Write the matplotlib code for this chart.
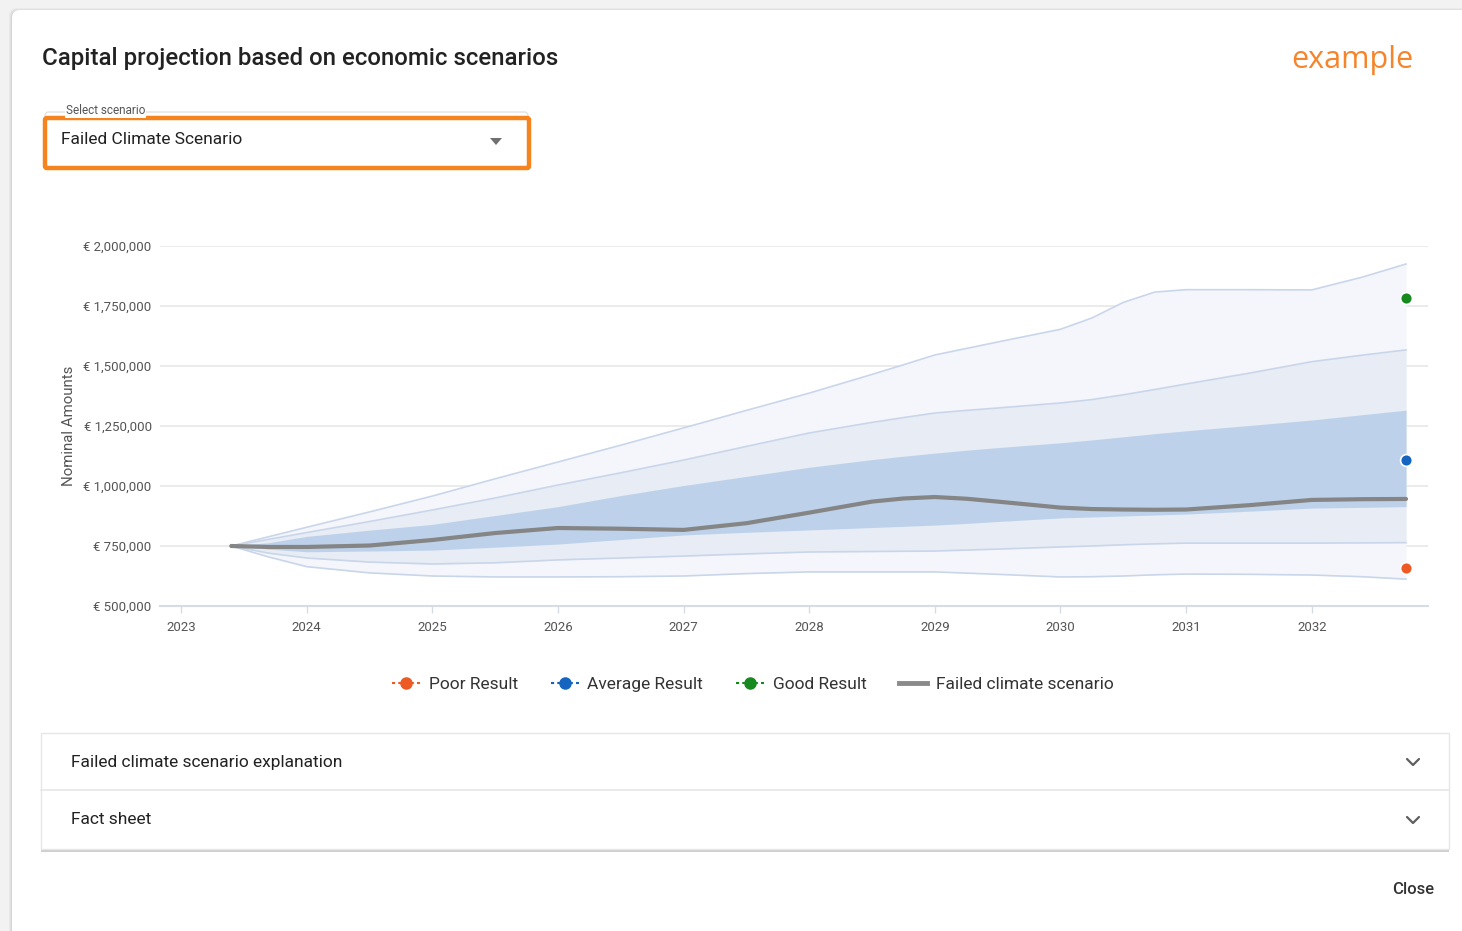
import matplotlib.pyplot as plt
from matplotlib.lines import Line2D
from matplotlib.patches import Rectangle, FancyBboxPatch, Polygon

plt.rcParams['font.family'] = ['Roboto', 'DejaVu Sans']

# projection time points (decimal years)
years = [2023.4, 2023.7, 2024, 2024.5, 2025, 2025.5, 2026, 2026.5, 2027, 2027.5, 2028,
         2028.5, 2028.75, 2029, 2029.25, 2029.5, 2030, 2030.25, 2030.5, 2030.75, 2031,
         2031.5, 2032, 2032.4, 2032.75]

# band edges, in thousands of euro
top_outer = [750, 789, 828, 892, 958, 1030, 1100, 1170, 1242, 1315, 1387,
             1465, 1505, 1546, 1573, 1600, 1653, 1700, 1765, 1808, 1818,
             1818, 1817, 1870, 1925]
upper_mid = [750, 778, 806, 852, 900, 950, 1004, 1055, 1108, 1165, 1221,
             1265, 1285, 1304, 1315, 1325, 1346, 1360, 1380, 1402, 1425,
             1470, 1518, 1545, 1567]
dark_upper = [750, 764, 790, 816, 840, 877, 914, 960, 1002, 1040, 1078,
              1110, 1124, 1137, 1149, 1160, 1180, 1192, 1205, 1218, 1230,
              1252, 1275, 1297, 1316]
median = [750, 746, 746, 752, 775, 804, 825, 822, 817, 845, 889,
          935, 948, 954, 947, 935, 910, 904, 902, 901, 902,
          920, 942, 945, 946]
dark_lower = [750, 737, 726, 729, 733, 745, 758, 777, 796, 807, 817,
              827, 832, 837, 844, 852, 867, 871, 875, 879, 883,
              895, 908, 911, 914]
lower_mid = [750, 720, 700, 683, 675, 680, 692, 700, 708, 717, 725,
             727, 728, 729, 733, 737, 746, 750, 755, 759, 762,
             762, 762, 763, 764]
bottom_outer = [750, 704, 664, 638, 625, 621, 621, 622, 625, 635, 642,
                642, 642, 642, 637, 632, 621, 622, 625, 630, 633,
                632, 629, 622, 612]

# end-point results
result_names = ['Poor Result', 'Average Result', 'Good Result']
result_values = [660, 1108, 1783]
result_colors = ['#ee5a24', '#1565c0', '#178a1f']

tick_years = list(range(2023, 2033))
y_ticks = [500, 750, 1000, 1250, 1500, 1750, 2000]

W, H = 1462, 931
fig = plt.figure(figsize=(W / 100, H / 100), dpi=100, facecolor='#f2f2f2')

# page / card background in pixel coordinates
bg = fig.add_axes([0, 0, 1, 1], zorder=0)
bg.set_xlim(0, W)
bg.set_ylim(H, 0)
bg.axis('off')
for i, a in enumerate([0.03, 0.04, 0.05]):
    bg.add_patch(FancyBboxPatch((12 - 3 + i, 10 - 2 + i), W, H,
                                boxstyle='round,pad=0,rounding_size=8',
                                fc='#000000', ec='none', alpha=a))
bg.add_patch(FancyBboxPatch((12, 10), W, H, boxstyle='round,pad=0,rounding_size=8',
                            fc='white', ec='none'))

bg.text(42, 59, 'Capital projection based on economic scenarios', fontsize=17.3,
        fontweight='medium', color='#222222', va='center', ha='left')
bg.text(1413, 60, 'example', fontsize=22, color='#f5842a', va='center', ha='right',
        family=['Open Sans', 'DejaVu Sans'])

# scenario selector
bg.add_patch(FancyBboxPatch((45, 112), 483, 56, boxstyle='round,pad=0,rounding_size=4',
                            fc='white', ec='#e2e2e2', lw=1))
bg.add_patch(FancyBboxPatch((45, 118), 484, 50, boxstyle='round,pad=0,rounding_size=2',
                            fc='none', ec='#f5841f', lw=3.2))
bg.text(66, 111, 'Select scenario', fontsize=8.5, color='#555555', va='center', ha='left',
        bbox=dict(fc='white', ec='none', pad=0.5))
bg.text(61, 140, 'Failed Climate Scenario', fontsize=12.5, color='#222222',
        va='center', ha='left')
bg.add_patch(Polygon([(490, 138), (502, 138), (496, 145)], closed=True,
                     fc='#707070', ec='none'))

# accordion panels
bg.add_patch(Rectangle((41, 736), 1408, 116, fc='#c4c4c4', ec='none', alpha=0.8))
bg.add_patch(Rectangle((41, 733), 1408, 116, fc='white', ec='#e6e6e6', lw=1))
bg.plot([41, 1449], [790, 790], color='#e6e6e6', lw=1.2)
for yy, label in [(762, 'Failed climate scenario explanation'), (820, 'Fact sheet')]:
    bg.text(71, yy, label, fontsize=12.5, color='#222222', va='center', ha='left')
    bg.plot([1407, 1413, 1419], [yy - 3, yy + 3, yy - 3],
            color='#5f5f5f', lw=1.6, solid_capstyle='round')
bg.text(1434, 890, 'Close', fontsize=12, fontweight='medium', color='#333333',
        va='center', ha='right')

# chart
ax = fig.add_axes([160 / W, (H - 606) / H, 1268 / W, 360 / H], zorder=2)
ax.set_facecolor('none')
ax.set_xlim(2022.833, 2032.925)
ax.set_ylim(500, 2000)

ax.fill_between(years, bottom_outer, top_outer, color='#f4f6fb', lw=0, zorder=1)
ax.fill_between(years, lower_mid, upper_mid, color='#e7ecf5', lw=0, zorder=2)
ax.fill_between(years, dark_lower, dark_upper, color='#bdd2ea', lw=0, zorder=3)
for edge in [top_outer, upper_mid, lower_mid, bottom_outer]:
    ax.plot(years, edge, color='#c9d6ea', lw=1.2, zorder=4)
ax.plot(years, median, color='#858585', lw=3, zorder=5, solid_capstyle='round',
        solid_joinstyle='round')

for val, col in zip(result_values, result_colors):
    ax.plot(years[-1], val, 'o', color=col, markersize=8.5, mec='white', mew=1.2, zorder=6)

ax.set_yticks(y_ticks)
ax.set_yticklabels(['€ {:,}'.format(v * 1000) for v in y_ticks])
ax.set_xticks(tick_years)
ax.set_xticklabels([str(y) for y in tick_years])
ax.grid(axis='y', color='#e9e9e9', lw=1.3, zorder=0)
ax.set_axisbelow(True)
for s in ['top', 'right', 'left']:
    ax.spines[s].set_visible(False)
ax.spines['bottom'].set_color('#d6dce6')
ax.spines['bottom'].set_linewidth(1.5)
ax.tick_params(axis='y', length=0, pad=6, labelsize=9.5, labelcolor='#555555')
ax.tick_params(axis='x', length=5, width=1, color='#d6dce6', pad=5.5, labelsize=9.5,
               labelcolor='#555555')
ax.set_ylabel('Nominal Amounts', fontsize=10.8, color='#555555', labelpad=5)

handles = [Line2D([], [], color=c, marker='o', markersize=8, linestyle=(0, (1.5, 1.5)),
                  lw=1.5) for c in result_colors]
handles.append(Line2D([], [], color='#8a8a8a', lw=3.5))
labels = result_names + ['Failed climate scenario']
fig.legend(handles, labels, loc='center', bbox_to_anchor=(753 / W, 1 - 684 / H), ncol=4,
           frameon=False, fontsize=12.5, handlelength=1.6, handletextpad=0.5,
           columnspacing=1.9, labelcolor='#333333')

fig.savefig('out.png', dpi=100, facecolor=fig.get_facecolor())
